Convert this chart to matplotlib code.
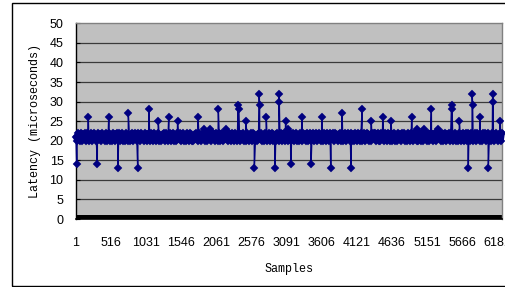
import matplotlib
matplotlib.use('Agg')
import matplotlib.pyplot as plt
import numpy as np
from matplotlib.patches import Rectangle

# ---------------- data ----------------
N_SAMPLES = 6250
TICK_LABELS = [1, 516, 1031, 1546, 2061, 2576, 3091, 3606, 4121, 4636, 5151, 5666, 6181]
Y_TICKS = [0, 5, 10, 15, 20, 25, 30, 35, 40, 45, 50]

# dense baseline band (microseconds), read as 20..22
BASE_VALUES = [
    21, 20, 22, 21, 20, 22, 20, 21, 22, 20, 22, 21, 20, 21, 22, 20, 21, 22, 21, 20,
    20, 22, 21, 20, 22, 21, 21, 20, 22, 20, 21, 22, 20, 21, 20, 22, 21, 20, 22, 21,
    22, 20, 21, 22, 20, 21, 20, 22, 21, 20, 21, 20, 22, 20, 21, 22, 21, 20, 22, 21,
    20, 22, 21, 21, 20, 22, 20, 21, 22, 20, 22, 21, 20, 22, 21, 20, 21, 22, 20, 21,
    20, 21, 22, 20, 22, 21, 20, 21, 22, 20, 21, 22, 20, 21, 20, 22, 21, 22, 20, 21,
    22, 20, 21, 20, 22, 21, 20, 22, 21, 20, 20, 21, 22, 21, 20, 22, 21, 20, 21, 22,
    21, 20, 22, 20, 21, 22, 20, 21, 22, 21, 20, 22, 21, 20, 22, 20, 21, 22, 20, 21,
    22, 21, 20, 22, 21, 20, 22, 21, 20, 22, 21, 20, 21, 22, 20, 21, 22, 20, 21, 20,
    22, 21, 20, 21, 22, 20, 22, 21, 20, 21, 20, 22, 21, 22, 20, 21, 20, 22, 21, 20,
    21, 22, 20, 21, 22, 20, 21, 20, 22, 21, 20, 21, 22, 20, 21, 22, 20, 22, 21, 20,
    22, 20, 21, 22, 20, 21, 22, 20, 21, 20, 22, 21, 20, 22, 21, 20, 22, 20, 21, 22,
    20, 21, 22, 20, 21, 22, 20, 21, 22, 20, 21, 20, 22, 21, 20, 22, 21, 20, 22, 21,
    21, 22, 20, 22, 21, 20, 21, 22, 20, 22, 20, 21, 22, 20, 21, 22, 21, 20, 22, 20,
    20, 22, 21, 20, 22, 21, 20, 22, 20, 21, 22, 20, 21, 22, 20, 21, 20, 22, 21, 22,
    22, 20, 21, 22, 20, 20, 22, 21, 20, 22, 21, 20, 22, 21, 20, 22, 20, 21, 22, 20,
    21, 20, 22, 21, 20, 22, 21, 22, 20, 21, 20, 22, 21, 20, 22, 21, 20, 22, 21, 20,
    20, 22, 21, 20, 22, 20, 21, 22, 21, 20, 22, 20, 21, 22, 20, 21, 22, 20, 21, 22,
    22, 21, 20, 22, 20, 21, 22, 20, 21, 22, 20, 22, 21, 20, 21, 22, 20, 21, 20, 22,
    21, 20, 22, 20, 21, 22, 20, 22, 21, 20, 22, 21, 20, 21, 22, 20, 22, 21, 20, 21,
    20, 22, 21, 22, 20, 21, 22, 20, 21, 20, 22, 21, 20, 22, 21, 20, 21, 22, 20, 22,
]

# isolated excursions (sample number, latency)
SPIKE_SAMPLES = [11, 181, 313, 481, 617, 768, 906, 1072, 1208, 1361,
                 1490, 1791, 2089, 2380, 2386, 2491, 2617, 2688, 2694, 2793,
                 2921, 2977, 2983, 3075, 3151, 3317, 3449, 3606, 3738, 3904,
                 4035, 4197, 4333, 4501, 4623, 4926, 5214, 5511, 5517, 5625,
                 5756, 5813, 5819, 5924, 6050, 6113, 6119, 6222]
SPIKE_VALUES = [14, 26, 14, 26, 13, 27, 13, 28, 25, 26,
                25, 26, 28, 29, 28, 25, 13, 32, 29, 26,
                13, 32, 30, 25, 14, 26, 14, 26, 13, 27,
                13, 28, 25, 26, 25, 26, 28, 29, 28, 25,
                13, 32, 29, 26, 13, 32, 30, 25]

# small bumps just above the band
BUMP_SAMPLES = [1884, 1967, 2197, 3111, 5000, 5107, 5317]
BUMP_VALUES = [23, 23, 23, 23, 23, 23, 23]

# ---------------- assemble series ----------------
base_x = np.round(np.linspace(1, N_SAMPLES, len(BASE_VALUES)))
xs = np.concatenate([base_x, SPIKE_SAMPLES, BUMP_SAMPLES]).astype(float)
ys = np.concatenate([BASE_VALUES, SPIKE_VALUES, BUMP_VALUES]).astype(float)
order = np.argsort(xs, kind='stable')
xs, ys = xs[order], ys[order]

# ---------------- figure ----------------
W, H = 505, 287
fig = plt.figure(figsize=(W / 100, H / 100), dpi=100)
fig.patch.set_facecolor('white')

left, right, top, bottom = 76, 502, 23.3, 219
ax = fig.add_axes([left / W, 1 - bottom / H, (right - left) / W, (bottom - top) / H])
ax.set_facecolor('#C0C0C0')

NAVY = '#000080'
# the dense baseline samples overlap into a solid band
ax.plot(base_x, BASE_VALUES, color=NAVY, lw=4.2, solid_joinstyle='round',
        solid_capstyle='round', clip_on=False, zorder=3)
# full series: thin connecting lines + diamond markers
ax.plot(xs, ys, color=NAVY, lw=1.0, marker='D', markersize=4.3,
        markerfacecolor=NAVY, markeredgecolor=NAVY, markeredgewidth=0.3,
        clip_on=False, zorder=3)

ax.set_xlim(0.5, N_SAMPLES + 0.5)
ax.set_ylim(0, 50)
ax.set_yticks(Y_TICKS)
ax.set_xticks(TICK_LABELS)
ax.set_xticklabels([str(t) for t in TICK_LABELS])

for y in Y_TICKS[1:-1]:
    ax.axhline(y, color='#3a3a3a', lw=0.9, zorder=1)

# thick dense tick strip along the category axis
ax.axhspan(0, 1.0, color='black', lw=0, zorder=2)

for s in ['top', 'right']:
    ax.spines[s].set_color('#808080')
    ax.spines[s].set_linewidth(1.0)
ax.spines['left'].set_color('black')
ax.spines['left'].set_linewidth(1.0)
ax.spines['bottom'].set_color('black')
ax.spines['bottom'].set_linewidth(1.2)

ax.tick_params(axis='y', length=3, direction='in', pad=9, colors='black')
ax.tick_params(axis='x', length=0, pad=13, colors='black')
for lab in ax.get_xticklabels() + ax.get_yticklabels():
    lab.set_fontfamily('Liberation Sans')
    lab.set_fontsize(9)

ax.set_ylabel('Latency (microseconds)', family='Liberation Mono', fontsize=8.5,
              labelpad=6)
ax.set_xlabel('Samples', family='Liberation Mono', fontsize=8.5, labelpad=10)

# outer chart frame
fig.patches.append(Rectangle((12 / W, 1 - 285.7 / H), 1.2, (285.7 - 2.7) / H,
                             transform=fig.transFigure, fill=False,
                             edgecolor='black', lw=1.0))

fig.savefig('out.png', dpi=100)
